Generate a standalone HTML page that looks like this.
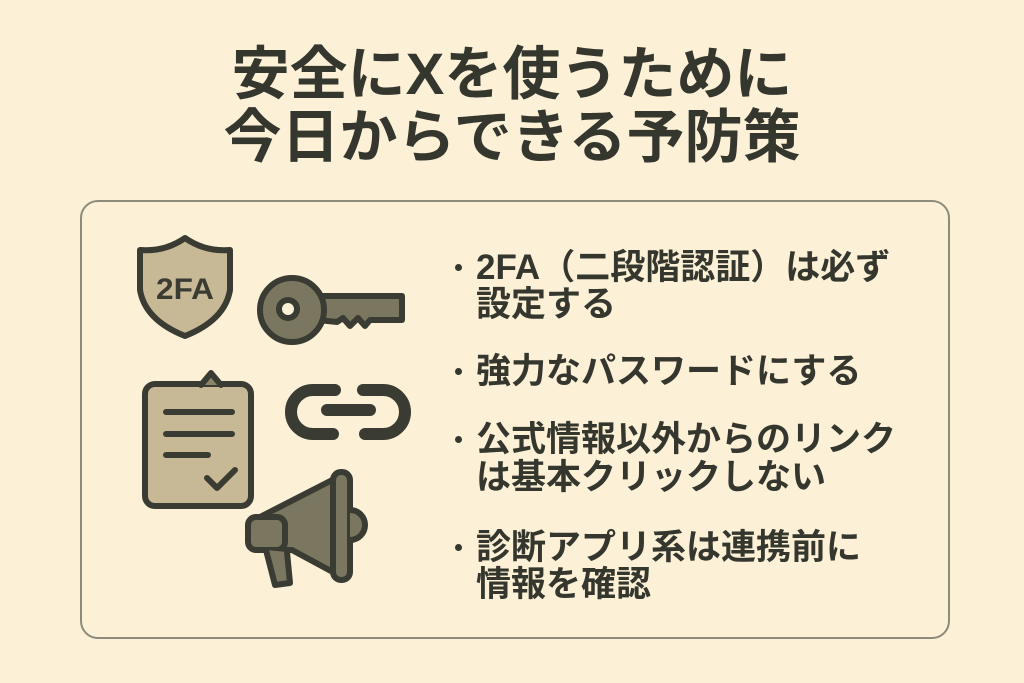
<!DOCTYPE html>
<html><head><meta charset="utf-8"><style>
body{margin:0;width:1024px;height:683px;background:#fcf0d6;font-family:"Liberation Sans","Noto Sans CJK JP",sans-serif;position:relative;overflow:hidden;color:#35372f}
.t{position:absolute;left:0;width:1024px;text-align:center;font-weight:bold;font-size:58px;line-height:62px}
.box{position:absolute;left:80px;top:200px;width:866px;height:435px;border:2px solid #8d8b7c;border-radius:18px}
.l{position:absolute;left:476px;font-weight:bold;font-size:35px;line-height:40px;white-space:nowrap}
.d{position:absolute;left:455px;width:7px;height:7px;border-radius:50%;background:#35372f}
</style></head><body>
<div class="t" style="top:44px">安全にXを使うために</div>
<div class="t" style="top:107px">今日からできる予防策</div>
<div class="box"></div>
<svg style="position:absolute;left:0;top:0" width="1024" height="683">
<g stroke="#3a3c33" stroke-width="6" stroke-linejoin="round" stroke-linecap="round">
<path d="M185 238 Q205 252 230 250 L230 290 Q225 320 185 336 Q145 320 140 290 L140 250 Q165 252 185 238Z" fill="#c7b995"/>
<text x="185" y="299" font-size="30" font-weight="bold" text-anchor="middle" fill="#3a3c33" stroke="none" font-family="Liberation Sans Narrow,Liberation Sans,sans-serif" textLength="58" lengthAdjust="spacingAndGlyphs">2FA</text>
<path d="M318 296 L402 296 L402 320 L370 320 L365 326 L358 318 L350 326 L343 318 L337 322 L318 320Z" fill="#7b7660"/>
<circle cx="292" cy="310" r="32" fill="#7b7660"/>
<circle cx="288" cy="309" r="9" fill="#fcf0d6"/>
<rect x="145" y="384" width="106" height="122" rx="10" fill="#c7b995"/>
<path d="M201 385 L211 373 L221 385" fill="#8a8468"/>
<path d="M166 412H232M166 434H232M166 455H208" />
<path d="M207 478 L217 488 L235 470" fill="none"/>
<path d="M335 390 H313 a22 22 0 0 0 0 44 H333" fill="none" stroke-width="12"/>
<path d="M363 390 H383 a22 22 0 0 1 0 44 H365" fill="none" stroke-width="12"/>
<path d="M327 410 H370" stroke-width="12"/>
<path d="M260 517 L342 475 L342 577 L292 550 L260 550Z" fill="#7b7660"/>
<rect x="333" y="472" width="17" height="108" rx="8" fill="#7b7660"/>
<path d="M350 510 a15 15 0 0 1 0 30" fill="#7b7660"/>
<rect x="248" y="517" width="37" height="33" rx="8" fill="#7b7660"/>
<path d="M266 550 L275 585 L290 583 L287 552" fill="#7b7660"/>
</g></svg>
<div class="d" style="top:264px"></div>
<div class="l" style="top:248px">2FA（二段階認証）は必ず</div>
<div class="l" style="top:285px">設定する</div>
<div class="d" style="top:368px"></div>
<div class="l" style="top:352px">強力なパスワードにする</div>
<div class="d" style="top:436px"></div>
<div class="l" style="top:420px">公式情報以外からのリンク</div>
<div class="l" style="top:458px">は基本クリックしない</div>
<div class="d" style="top:544px"></div>
<div class="l" style="top:528px">診断アプリ系は連携前に</div>
<div class="l" style="top:565px">情報を確認</div>
</body></html>
